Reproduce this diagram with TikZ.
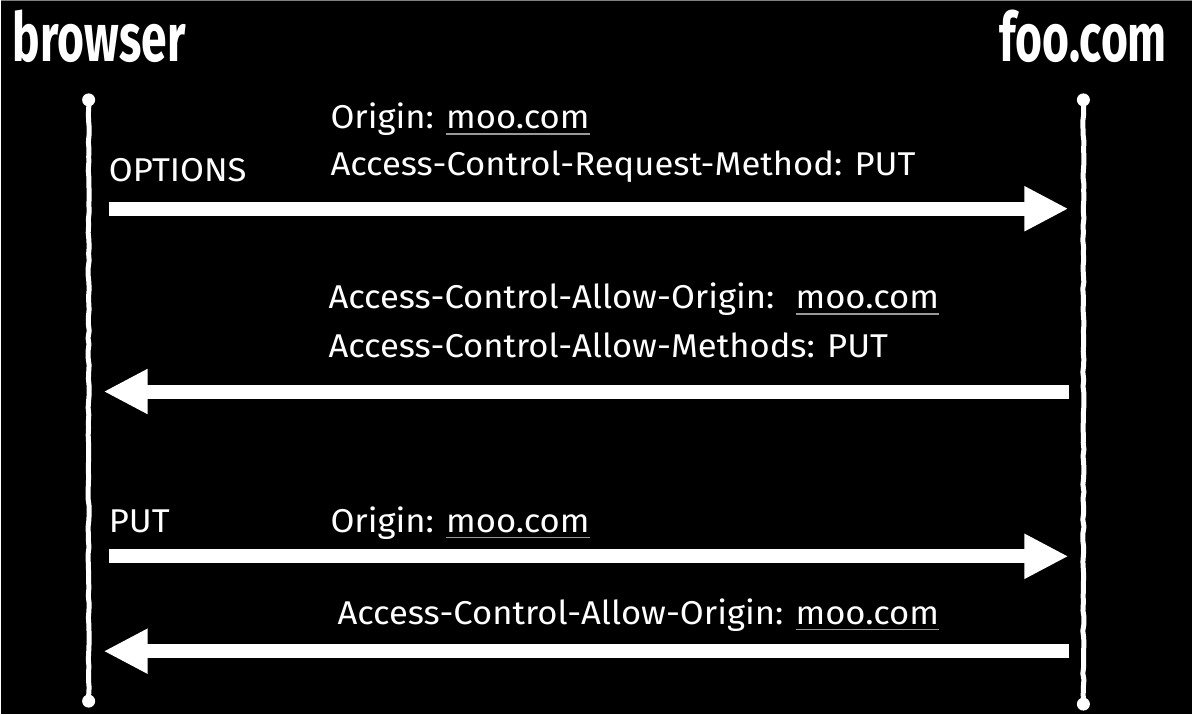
\documentclass[tikz,border=0pt]{standalone}
\usepackage{fontspec}
\setmainfont[FakeStretch=1.05]{Fira Sans}
\newfontfamily\titlefont[FakeStretch=0.68]{Fira Sans}
\usetikzlibrary{arrows.meta,decorations.pathmorphing}
\definecolor{ulgray}{gray}{0.6}
\newsavebox\ulbox
\newcommand\glink[1]{\sbox\ulbox{#1}\rlap{\color{ulgray}\rule[-6pt]{\wd\ulbox}{1.6pt}}\usebox\ulbox}
\begin{document}
\begin{tikzpicture}[x=1pt,y=-1pt,
  msg/.style={anchor=base west,inner sep=0pt,text=white,font=\fontsize{33}{33}\selectfont},
  title/.style={anchor=base west,inner sep=0pt,text=white,font=\titlefont\bfseries\fontsize{68}{68}\selectfont},
  life/.style={draw=white,line width=5pt,line join=round,decorate,decoration={random steps,segment length=7pt,amplitude=0.6pt}},
  endcap/.style={circle,fill=white,inner sep=0pt,minimum size=13pt},
  arr/.style={white,line width=14pt,-{Triangle[width=42pt,length=44pt]}}
]
\pgfmathsetseed{7}
\fill[black] (0,0) rectangle (1193,715);
\draw[gray,line width=1.5pt] (0,0.75) -- (1193,0.75);
% titles
\node[title] (browser) at (12,62) {browser};
\node[title] (foo) at (1000,62) {foo.com};
% lifelines
\node[endcap] (btop) at (88,100) {};
\node[endcap] (bbot) at (88,702) {};
\node[endcap] (ftop) at (1084,100) {};
\node[endcap] (fbot) at (1084,705) {};
\draw[life] (btop.center) -- (bbot.center);
\draw[life] (ftop.center) -- (fbot.center);
% arrow end points
\coordinate (a1s) at (108,209);
\coordinate (a1e) at (1069,209);
\coordinate (a2s) at (1070,392);
\coordinate (a2e) at (103,392);
\coordinate (a3s) at (108,557);
\coordinate (a3e) at (1069,557);
\coordinate (a4s) at (1070,652);
\coordinate (a4e) at (103,652);
\draw[arr] (a1s) -- (a1e);
\draw[arr] (a2s) -- (a2e);
\draw[arr] (a3s) -- (a3e);
\draw[arr] (a4s) -- (a4e);
% labels
\node[msg] (opt) at (108,182) {OPTIONS};
\node[msg] (m1a) at (330,129) {Origin: \glink{moo.com}};
\node[msg] (m1b) at (330,176) {Access-Control-Request-Method: PUT};
\node[msg] (m2a) at (328,309) {Access-Control-Allow-Origin:\hspace{9pt} \glink{moo.com}};
\node[msg] (m2b) at (328,358) {Access-Control-Allow-Methods: PUT};
\node[msg] (put) at (108,533) {PUT};
\node[msg] (m3a) at (330,533) {Origin: \glink{moo.com}};
\node[msg] (m4a) at (337,625) {Access-Control-Allow-Origin: \glink{moo.com}};
\end{tikzpicture}
\end{document}
